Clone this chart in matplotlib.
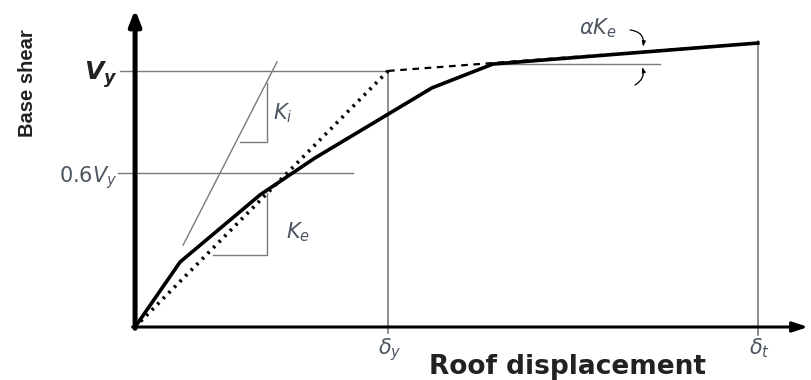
import numpy as np
import matplotlib
matplotlib.use("Agg")
import matplotlib.pyplot as plt

# pushover curve (displacement normalised by delta_y, shear by V_y)
curve_x = [0.0, 0.178, 0.494, 0.711, 1.174, 1.415, 2.462]
curve_y = [0.0, 0.254, 0.516, 0.660, 0.934, 1.027, 1.109]

# idealised bilinear curve
bilin_x = [0.0, 1.0]
bilin_y = [0.0, 1.0]
post_x = [1.0, 1.415, 2.462]
post_y = [1.0, 1.031, 1.109]

# initial stiffness line K_i
ki_x = [0.19, 0.561]
ki_y = [0.32, 1.035]

delta_y = 1.0
delta_t = 2.462
v_y = 1.0
v_06 = 0.6

grey = "#7a7a7a"
txt = "#4d5561"

fig = plt.figure(figsize=(8.11, 3.80), dpi=100)
ax = fig.add_axes([0, 0, 1, 1])
ax.set_xlim(-0.534, 2.672)
ax.set_ylim(-0.207, 1.277)
ax.axis('off')

# thin reference lines
ax.plot([-0.059, delta_y], [v_y, v_y], color=grey, lw=1.0)
ax.plot([-0.067, 0.862], [v_06, v_06], color=grey, lw=1.0)
ax.plot([delta_y, delta_y], [-0.023, v_y], color=grey, lw=1.2)
ax.plot([delta_t, delta_t], [-0.03, curve_y[-1] + 0.006], color=grey, lw=1.2)
ax.plot([1.415, 2.075], [1.027, 1.027], color=grey, lw=1.0)

# K_i line and its slope triangle
ax.plot(ki_x, ki_y, color=grey, lw=1.0)
ax.plot([0.415, 0.522, 0.522], [0.723, 0.723, 0.953], color=grey, lw=1.0)

# K_e slope triangle
ax.plot([0.308, 0.522, 0.522], [0.281, 0.281, 0.523], color=grey, lw=1.0)

# bilinear idealisation
ax.plot(bilin_x, bilin_y, color="black", lw=2.6, linestyle=(0, (0.7, 1.5)))
ax.plot(post_x, post_y, color="black", lw=1.6, linestyle=(0, (3, 2.5)))

# capacity curve
ax.plot(curve_x, curve_y, color="black", lw=2.6, solid_joinstyle='miter')

# axes with arrow heads
ax.annotate("", xy=(0, 1.24), xytext=(0, -0.005),
            arrowprops=dict(arrowstyle="-|>,head_width=0.35,head_length=0.9",
                            color="black", lw=3.6, shrinkA=0, shrinkB=0))
ax.annotate("", xy=(2.66, 0), xytext=(-0.01, 0),
            arrowprops=dict(arrowstyle="-|>,head_width=0.3,head_length=0.9",
                            color="black", lw=2.2, shrinkA=0, shrinkB=0))

# alpha*K_e curved arrows
ax.annotate("", xy=(2.008, 1.094), xytext=(1.957, 1.160),
            arrowprops=dict(arrowstyle="-|>,head_width=0.1,head_length=0.3",
                            color="black", lw=0.9,
                            connectionstyle="arc3,rad=-0.5", shrinkA=0, shrinkB=0))
ax.annotate("", xy=(2.004, 1.016), xytext=(1.976, 0.945),
            arrowprops=dict(arrowstyle="-|>,head_width=0.1,head_length=0.3",
                            color="black", lw=0.9,
                            connectionstyle="arc3,rad=0.4", shrinkA=0, shrinkB=0))

# labels
ax.text(-0.427, 0.953, "Base shear", rotation=90, ha="center", va="center",
        fontsize=14.5, fontweight="bold", family=["Liberation Sans", "DejaVu Sans"],
        color="#222222")
ax.text(1.708, -0.158, "Roof displacement", ha="center", va="center",
        fontsize=19, fontweight="bold", family="DejaVu Sans", color="#222222")
ax.text(-0.07, 0.985, r"$\mathbfit{V}_{\mathbfit{y}}$", ha="right", va="center",
        fontsize=18, color="#222222")
ax.text(-0.07, 0.582, r"0.6$V_y$", ha="right", va="center",
        fontsize=15, color=txt)
ax.text(0.585, 0.836, r"$K_i$", ha="center", va="center", fontsize=15, color=txt)
ax.text(0.644, 0.371, r"$K_e$", ha="center", va="center", fontsize=15, color=txt)
ax.text(1.83, 1.168, r"$\alpha K_e$", ha="center", va="center", fontsize=15, color=txt)
ax.text(1.008, -0.09, r"$\delta_y$", ha="center", va="center", fontsize=15, color=txt)
ax.text(2.47, -0.082, r"$\delta_t$", ha="center", va="center", fontsize=15, color=txt)

fig.savefig("out.png", dpi=100)
